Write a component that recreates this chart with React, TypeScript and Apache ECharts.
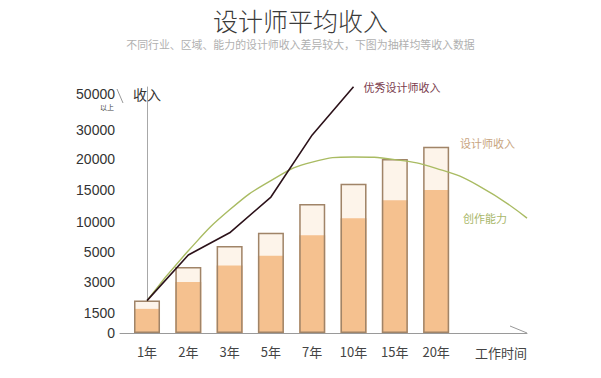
import React, { useEffect, useRef } from "react";
import * as echarts from "echarts";

// ---- data ----
const CATEGORIES = ["1年", "2年", "3年", "5年", "7年", "10年", "15年", "20年"];
// designer income: full bar (outline) and darker base part
const AVG_TOTAL = [2100, 4000, 6000, 8200, 12800, 16000, 20000, 24200];
const AVG_BASE = [1700, 3000, 4100, 4750, 7800, 10600, 13400, 15000];
// excellent designer income (first six periods)
const TOP_INCOME = [2100, 4800, 8200, 13900, 28300, 54000];
// creative ability curve (expressed on the same scale), x = period index
const ABILITY_X = [0, 1, 2, 3, 4, 5, 6, 7, 8, 9.2];
const ABILITY = [2100, 5200, 11900, 16500, 19500, 20700, 19900, 18500, 15800, 10600];
// y-axis tick labels (non-linear axis)
const Y_TICKS = [0, 1500, 3000, 5000, 10000, 15000, 20000, 30000, 50000];

// scale definition of the non-linear income axis (tick -> axis unit)
const Y_TICK_POS = [0, 20, 51, 81, 111, 143, 174, 203, 239];

function toPos(v: number): number {
  for (let i = 1; i < Y_TICKS.length; i++) {
    if (v <= Y_TICKS[i] || i === Y_TICKS.length - 1) {
      const v0 = Y_TICKS[i - 1], v1 = Y_TICKS[i];
      const p0 = Y_TICK_POS[i - 1], p1 = Y_TICK_POS[i];
      return p0 + ((v - v0) / (v1 - v0)) * (p1 - p0);
    }
  }
  return 0;
}

const CJK = '"Noto Sans CJK SC", "Noto Sans", sans-serif';
const NUM = '"Liberation Sans", Arial, sans-serif';

export default function App() {
  const ref = useRef<HTMLDivElement>(null);
  useEffect(() => {
    if (!ref.current) return;
    const chart = echarts.init(ref.current, null, { renderer: "svg" });
    const idx = CATEGORIES.map((_, i) => i);
    const option: any = {
      animation: false,
      backgroundColor: "#ffffff",
      grid: { left: 120, right: 74, top: 87, bottom: 45 },
      xAxis: {
        type: "value",
        min: -0.654,
        max: 9.2,
        splitLine: { show: false },
        axisTick: { show: false },
        axisLine: { show: true, lineStyle: { color: "#9a9a9a", width: 1 } },
        axisLabel: {
          customValues: idx,
          formatter: (v: number) => CATEGORIES[Math.round(v)] ?? "",
          color: "#444",
          fontSize: 13,
          fontFamily: CJK,
          margin: 12,
        },
        name: "工作时间",
        nameLocation: "end",
        nameGap: 0,
        nameTextStyle: {
          align: "right",
          verticalAlign: "top",
          padding: [13, 0, 0, 0],
          color: "#444",
          fontSize: 13,
          fontFamily: CJK,
        },
      },
      yAxis: {
        type: "value",
        min: 0,
        max: 246,
        splitLine: { show: false },
        axisTick: { show: false },
        axisLine: { show: true, lineStyle: { color: "#a8a8a8", width: 1 } },
        axisLabel: {
          customValues: Y_TICK_POS,
          formatter: (v: number) => {
            const k = Y_TICK_POS.findIndex((p) => Math.abs(p - v) < 0.01);
            return k >= 0 ? String(Y_TICKS[k]) : "";
          },
          color: "#333",
          fontSize: 14,
          fontFamily: NUM,
          margin: 5,
        },
      },
      series: [
        {
          type: "bar",
          name: "total-fill",
          barWidth: 26,
          barGap: "-100%",
          itemStyle: { color: "#fdf4ea" },
          data: AVG_TOTAL.map((v, i) => [i, toPos(v)]),
          z: 2,
        },
        {
          type: "bar",
          name: "base",
          barWidth: 26,
          barGap: "-100%",
          itemStyle: { color: "#f5c18f" },
          data: AVG_BASE.map((v, i) => [i, toPos(v)]),
          z: 3,
        },
        {
          type: "bar",
          name: "设计师收入",
          barWidth: 26,
          barGap: "-100%",
          itemStyle: { color: "rgba(0,0,0,0)", borderColor: "#a08468", borderWidth: 1.5 },
          data: AVG_TOTAL.map((v, i) => [i, toPos(v)]),
          z: 4,
        },
        {
          type: "line",
          name: "创作能力",
          smooth: 0.5,
          symbol: "none",
          clip: false,
          lineStyle: { color: "#a9bb62", width: 1.4 },
          data: ABILITY.map((v, i) => [ABILITY_X[i], toPos(v)]),
          z: 5,
        },
        {
          type: "line",
          name: "优秀设计师收入",
          symbol: "none",
          clip: false,
          lineStyle: { color: "#2b1119", width: 1.6 },
          data: TOP_INCOME.map((v, i) => [i, toPos(v)]),
          endLabel: {
            show: true,
            formatter: "优秀设计师收入",
            color: "#7a3b4d",
            fontSize: 11,
            fontFamily: CJK,
            distance: 10,
          },
          z: 6,
        },
      ],
      graphic: [
        {
          type: "text",
          left: "center",
          top: 7,
          style: {
            text: "设计师平均收入",
            fontSize: 25,
            fontWeight: 300,
            fontFamily: CJK,
            fill: "#3a3a3a",
          },
        },
        {
          type: "text",
          left: "center",
          top: 39,
          style: {
            text: "不同行业、区域、能力的设计师收入差异较大，下图为抽样均等收入数据",
            fontSize: 10.9,
            fontFamily: CJK,
            fill: "#b0b0b0",
          },
        },
        {
          type: "text",
          x: 133,
          y: 94,
          style: { text: "收入", fontSize: 14, fontFamily: CJK, fill: "#333", verticalAlign: "middle" },
        },
        {
          type: "text",
          x: 114,
          y: 107,
          style: { text: "以上", fontSize: 7, fontFamily: CJK, fill: "#444", align: "right", verticalAlign: "middle" },
        },
        {
          type: "line",
          shape: { x1: 117, y1: 89, x2: 123, y2: 103 },
          style: { stroke: "#999", lineWidth: 1 },
        },
        {
          type: "line",
          shape: { x1: 510, y1: 326, x2: 527, y2: 333 },
          style: { stroke: "#999", lineWidth: 1 },
        },
        {
          type: "text",
          x: 460,
          y: 143,
          style: { text: "设计师收入", fontSize: 11, fontFamily: CJK, fill: "#c8a47e", verticalAlign: "middle" },
        },
        {
          type: "text",
          x: 463,
          y: 218,
          style: { text: "创作能力", fontSize: 11, fontFamily: CJK, fill: "#a9b76a", verticalAlign: "middle" },
        },
      ],
    };
    chart.setOption(option);
    return () => chart.dispose();
  }, []);
  return (
    <div
      ref={ref}
      style={{ position: "absolute", left: 0, top: 0, width: 601, height: 378 }}
    />
  );
}
